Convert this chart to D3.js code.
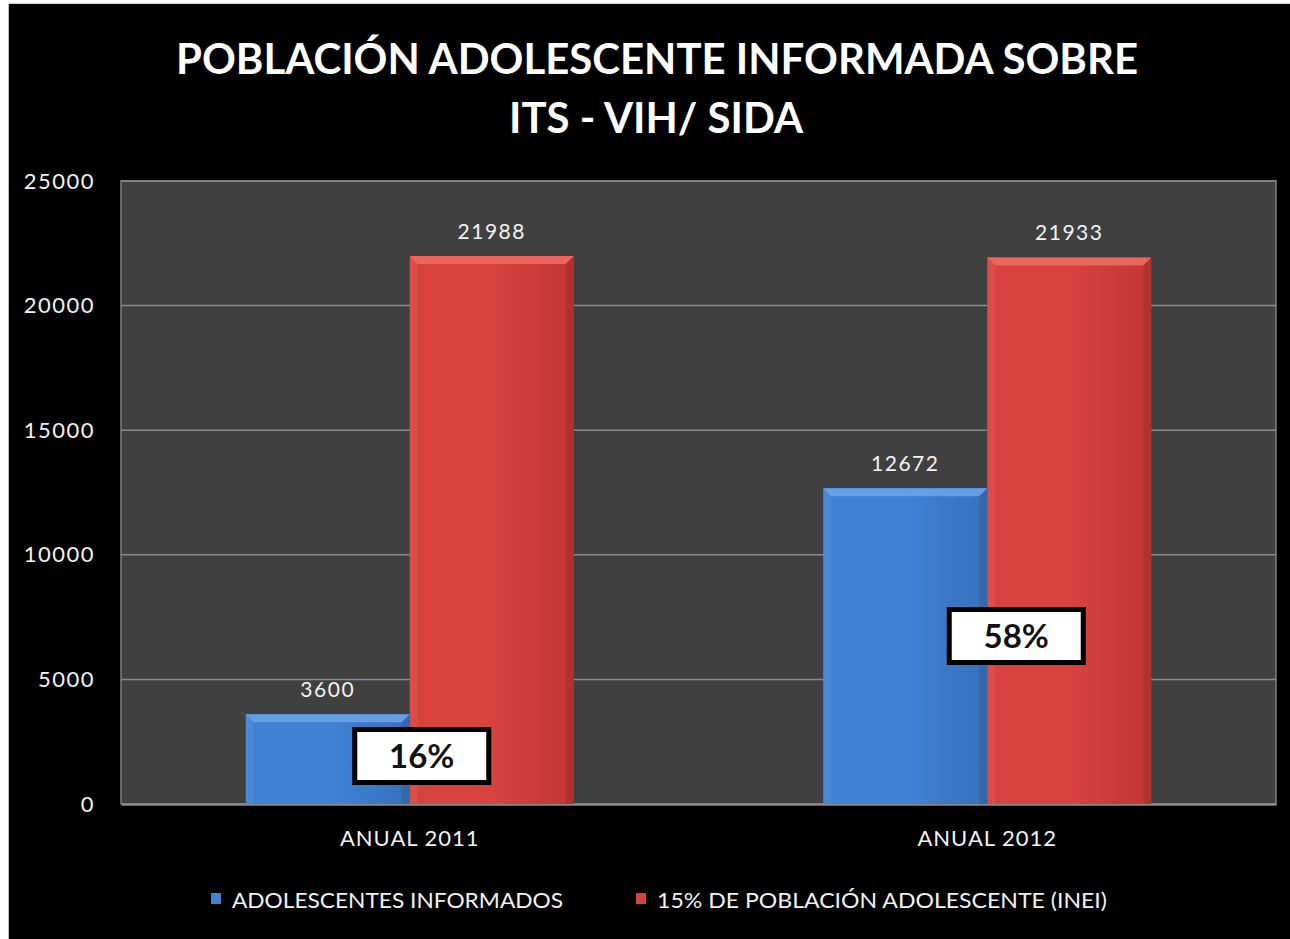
<!DOCTYPE html>
<html><head><meta charset="utf-8">
<script src="https://cdn.jsdelivr.net/npm/d3@7"></script>
<style>html,body{margin:0;padding:0;background:#fff;}svg{display:block;}</style>
</head><body>
<svg id="c" width="1290" height="939"></svg>
<script>
const categories = ["ANUAL 2011", "ANUAL 2012"];
const seriesNames = ["ADOLESCENTES INFORMADOS", "15% DE POBLACIÓN ADOLESCENTE (INEI)"];
const informados = [3600, 12672];
const poblacion15 = [21988, 21933];
const percentLabels = ["16%", "58%"];
const yTicks = [0, 5000, 10000, 15000, 20000, 25000];
const titleLines = ["POBLACIÓN ADOLESCENTE INFORMADA SOBRE", "ITS - VIH/ SIDA"];

const svg = d3.select("#c");
const W = 1290, H = 939;
const font = "Lato, 'Open Sans', sans-serif";

// background
svg.append("rect").attr("x",0).attr("y",0).attr("width",W).attr("height",H).attr("fill","#fff");
svg.append("rect").attr("x",9).attr("y",4).attr("width",W-9).attr("height",H-4).attr("fill","#000");
svg.append("line").attr("x1",8.5).attr("x2",8.5).attr("y1",4).attr("y2",H).attr("stroke","#bbb");
svg.append("line").attr("x1",9).attr("x2",W).attr("y1",3.5).attr("y2",3.5).attr("stroke","#ccc");

const defs = svg.append("defs");
function grad(id, c1, c2) {
  const g = defs.append("linearGradient").attr("id", id).attr("x1","0").attr("y1","0").attr("x2","1").attr("y2","0");
  g.append("stop").attr("offset","0%").attr("stop-color", c1);
  g.append("stop").attr("offset","50%").attr("stop-color", c1);
  g.append("stop").attr("offset","100%").attr("stop-color", c2);
}
grad("gBlue", "#3f82d4", "#3671bd");
grad("gRed", "#d8423d", "#c13631");

const margin = {left:121, right:14, top:181, bottom:135};
const x0 = d3.scaleBand().domain(categories).range([margin.left, W - margin.right]).paddingInner(0).paddingOuter(0);
const x1 = d3.scaleBand().domain([0,1]).range([0, x0.bandwidth()]).paddingOuter(0.76).paddingInner(0);
const y = d3.scaleLinear().domain([0, 25000]).range([H - margin.bottom, margin.top]);

// plot area
svg.append("rect").attr("x", margin.left).attr("y", margin.top)
  .attr("width", W - margin.right - margin.left).attr("height", y(0) - margin.top)
  .attr("fill", "#404040").attr("stroke", "#7f7f7f").attr("stroke-width", 1.5);

// gridlines
svg.append("g").selectAll("line").data(yTicks.filter(d => d > 0)).join("line")
  .attr("x1", margin.left).attr("x2", W - margin.right)
  .attr("y1", d => y(d)).attr("y2", d => y(d))
  .attr("stroke", "#8a8a8a").attr("stroke-width", 1.5);

// y axis
const yAxis = d3.axisLeft(y).tickValues(yTicks).tickSize(0).tickPadding(26).tickFormat(d3.format("d"));
const gy = svg.append("g").attr("transform", `translate(${margin.left},0)`).call(yAxis);
gy.select(".domain").remove();
gy.selectAll("text").attr("fill", "#f2f2f2").style("font-family", font).style("font-size", "22px").style("letter-spacing", "1.5px");

// x axis
const xAxis = d3.axisBottom(x0).tickSize(0).tickPadding(26);
const gx = svg.append("g").attr("transform", `translate(0,${y(0)})`).call(xAxis);
gx.select(".domain").attr("stroke", "#8a8a8a").attr("stroke-width", 2.5);
gx.selectAll("text").attr("fill", "#f2f2f2").style("font-family", font).style("font-size", "22px").style("letter-spacing", "1px");

const series = [informados, poblacion15];
const fills = ["url(#gBlue)", "url(#gRed)"];
const tops = ["#6aa3e6", "#ee6a63"];
const legendColors = ["#3f82d4", "#d8423d"];

categories.forEach((cat, ci) => {
  series.forEach((vals, si) => {
    const v = vals[ci];
    const bx = x0(cat) + x1(si), bw = x1.bandwidth();
    const by = y(v), bh = y(0) - y(v);
    const g = svg.append("g");
    g.append("rect").attr("x", bx).attr("y", by).attr("width", bw).attr("height", bh).attr("fill", fills[si]);
    const bev = 8;
    g.append("path").attr("d", `M${bx},${by}L${bx+bw},${by}L${bx+bw-bev},${by+bev}L${bx+bev},${by+bev}Z`).attr("fill", tops[si]).attr("opacity", 0.9);
    g.append("path").attr("d", `M${bx},${by}L${bx+bev},${by+bev}L${bx+bev},${by+bh}L${bx},${by+bh}Z`).attr("fill", "#fff").attr("opacity", 0.06);
    g.append("path").attr("d", `M${bx+bw},${by}L${bx+bw-bev},${by+bev}L${bx+bw-bev},${by+bh}L${bx+bw},${by+bh}Z`).attr("fill", "#000").attr("opacity", 0.08);
    svg.append("text").attr("x", bx + bw/2).attr("y", by - 17).attr("text-anchor", "middle")
      .attr("fill", "#f2f2f2").style("font-family", font).style("font-size", "21px").style("letter-spacing", "1.5px")
      .text(d3.format("d")(v));
  });
});

// percent boxes
const boxOffsetX = [12, 29];
const boxOffsetY = [48, 168];
categories.forEach((cat, ci) => {
  const cx = x0(cat) + x1(1) + boxOffsetX[ci];
  const cy = y(0) - boxOffsetY[ci];
  const bw = 134, bh = 53;
  svg.append("rect").attr("x", cx - bw/2).attr("y", cy - bh/2).attr("width", bw).attr("height", bh)
    .attr("fill", "#fff").attr("stroke", "#000").attr("stroke-width", 5);
  svg.append("text").attr("x", cx).attr("y", cy + 12).attr("text-anchor", "middle")
    .attr("fill", "#111").style("font-family", font).style("font-weight", "bold").style("font-size", "33px")
    .text(percentLabels[ci]);
});

// title
svg.append("text").attr("x", 657).attr("y", 74).attr("text-anchor", "middle")
  .attr("fill", "#fff").style("font-family", font).style("font-weight", "bold").style("font-size", "42px")
  .attr("textLength", 962).attr("lengthAdjust", "spacingAndGlyphs").text(titleLines[0]);
svg.append("text").attr("x", 656).attr("y", 133).attr("text-anchor", "middle")
  .attr("fill", "#fff").style("font-family", font).style("font-weight", "bold").style("font-size", "42px")
  .attr("textLength", 294).attr("lengthAdjust", "spacingAndGlyphs").text(titleLines[1]);

// legend
const legendX = [211, 636], legendW = [331, 450];
seriesNames.forEach((name, i) => {
  svg.append("rect").attr("x", legendX[i]).attr("y", 893).attr("width", 10).attr("height", 11).attr("fill", legendColors[i]);
  svg.append("text").attr("x", legendX[i] + 21).attr("y", 908).attr("fill", "#f2f2f2")
    .style("font-family", font).style("font-size", "21px")
    .attr("textLength", legendW[i]).attr("lengthAdjust", "spacingAndGlyphs").text(name);
});
</script>
</body></html>
